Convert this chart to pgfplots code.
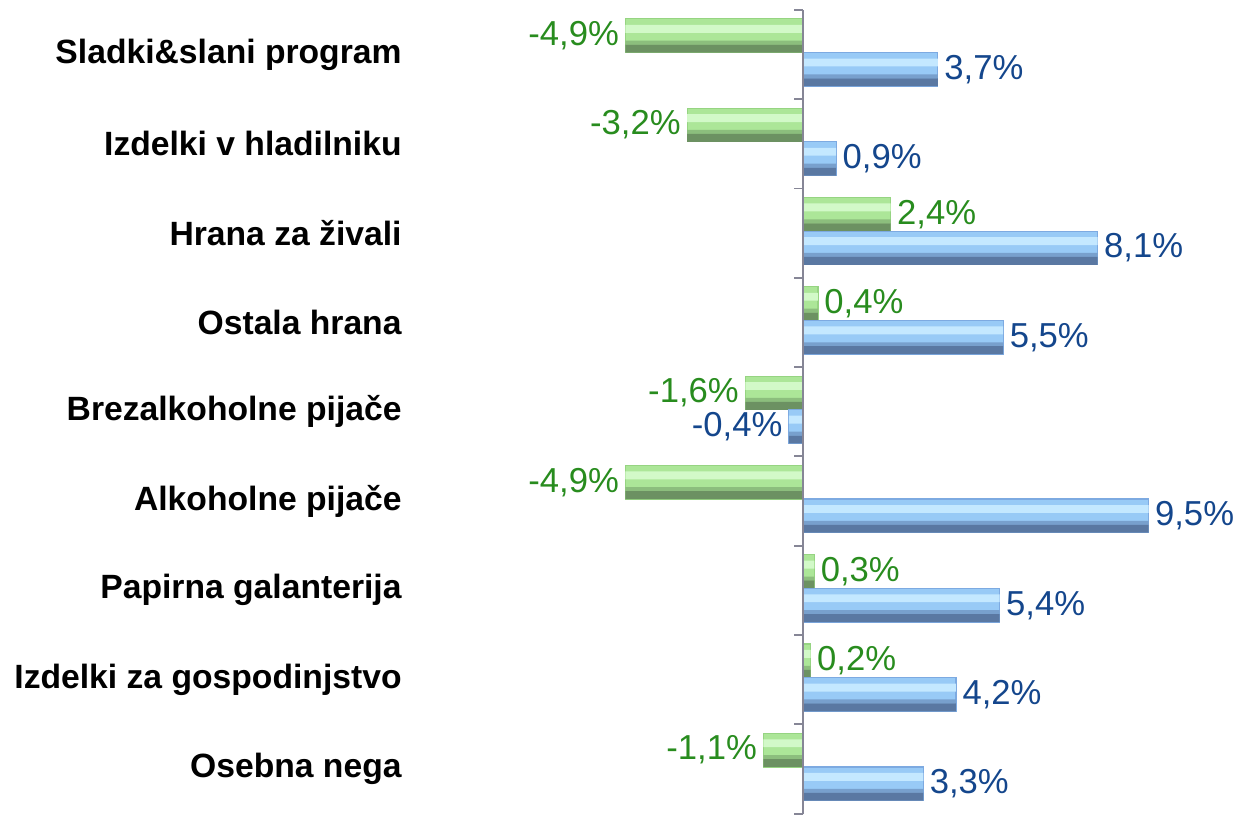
\documentclass[border=0pt]{standalone}
\usepackage{pgfplots}
\usepackage{pgfplotstable}
\pgfplotsset{compat=1.18}
\usepackage{fontspec}
\setmainfont{Liberation Sans}

\definecolor{gtext}{RGB}{40,140,30}
\definecolor{btext}{RGB}{20,70,140}
\definecolor{axgray}{RGB}{134,134,150}
\definecolor{gbase}{RGB}{172,230,152}
\definecolor{glight}{RGB}{210,249,200}
\definecolor{gmid}{RGB}{140,190,125}
\definecolor{gdark}{RGB}{108,145,98}
\definecolor{gedge}{RGB}{150,212,130}
\definecolor{bbase}{RGB}{152,202,246}
\definecolor{blight}{RGB}{196,232,255}
\definecolor{bmid}{RGB}{120,160,205}
\definecolor{bdark}{RGB}{90,120,162}
\definecolor{bedge}{RGB}{125,170,225}

% category 8 = top row, 0 = bottom row
\pgfplotstableread{
cat val
8 -4.9
7 -3.2
6 2.4
5 0.4
4 -1.6
3 -4.9
2 0.3
1 0.2
0 -1.1
}\green
\pgfplotstableread{
cat val
8 3.7
7 0.9
6 8.1
5 5.5
4 -0.4
3 9.5
2 5.4
1 4.2
0 3.3
}\blue

\begin{document}
\begin{tikzpicture}
\begin{axis}[
    width=620pt, height=411pt, scale only axis,
    xmin=-21.88, xmax=11.91, ymin=-0.502, ymax=8.611,
    axis x line=none, axis y line*=left,
    y axis line style={draw=none},
    ytick={0,...,8},
    yticklabels={Osebna nega, Izdelki za gospodinjstvo, Papirna galanterija, Alkoholne pijače, Brezalkoholne pijače, Ostala hrana, Hrana za živali, Izdelki v hladilniku, Sladki\&slani program},
    ytick style={draw=none},
    yticklabel style={font=\bfseries\fontsize{17}{20}\selectfont, anchor=east, inner sep=0pt, xshift=203pt},
    xbar, bar width=17pt,
    point meta=x,
    every node near coord/.append style={font=\fontsize{17.5}{20}\selectfont, inner sep=3pt},
    clip=false,
]
% green series (upper bar in each pair), drawn in bevel layers
\addplot[xbar, bar shift=9.5pt, fill=gbase, draw=gedge, line width=0.6pt,
    nodes near coords={\pgfmathprintnumber[use comma,fixed,fixed zerofill,precision=1,assume math mode=true]{\pgfplotspointmeta}\%},
    every node near coord/.append style={text=gtext}]
    table[x=val, y=cat] {\green};
\addplot[xbar, bar shift=13pt, bar width=4pt, fill=glight, draw=none, forget plot]
    table[x=val, y=cat] {\green};
\addplot[xbar, bar shift=6pt, bar width=2pt, fill=gmid, draw=none, forget plot]
    table[x=val, y=cat] {\green};
\addplot[xbar, bar shift=3pt, bar width=4pt, fill=gdark, draw=none, forget plot]
    table[x=val, y=cat] {\green};
% blue series (lower bar)
\addplot[xbar, bar shift=-7.5pt, fill=bbase, draw=bedge, line width=0.6pt,
    nodes near coords={\pgfmathprintnumber[use comma,fixed,fixed zerofill,precision=1,assume math mode=true]{\pgfplotspointmeta}\%},
    every node near coord/.append style={text=btext}]
    table[x=val, y=cat] {\blue};
\addplot[xbar, bar shift=-4pt, bar width=4pt, fill=blight, draw=none, forget plot]
    table[x=val, y=cat] {\blue};
\addplot[xbar, bar shift=-11pt, bar width=2pt, fill=bmid, draw=none, forget plot]
    table[x=val, y=cat] {\blue};
\addplot[xbar, bar shift=-14pt, bar width=4pt, fill=bdark, draw=none, forget plot]
    table[x=val, y=cat] {\blue};
\draw[axgray, line width=1pt] (axis cs:0,-0.502) -- (axis cs:0,8.5);
\pgfplotsinvokeforeach{-0.5,0.5,...,8.5}{
    \draw[axgray, line width=1pt] (axis cs:0,#1) -- ++(-4.5pt,0pt);
}
\end{axis}
\end{tikzpicture}
\end{document}
